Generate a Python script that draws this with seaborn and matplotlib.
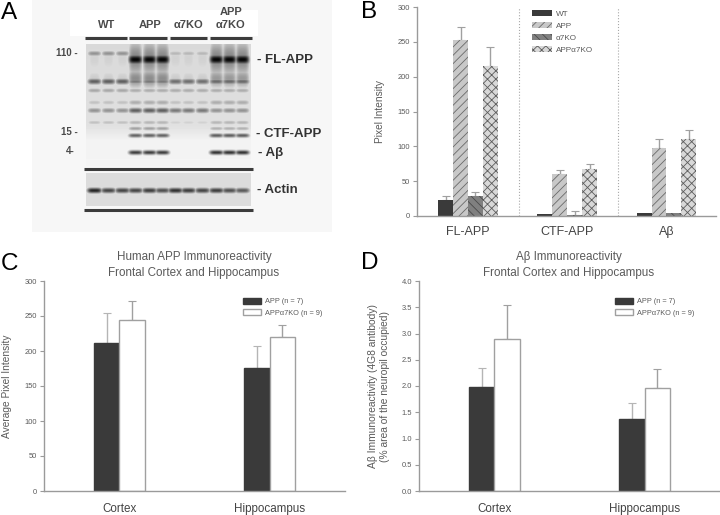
"""Four panel figure: western blot plus three grouped bar charts."""
import matplotlib
matplotlib.use("Agg")
import matplotlib.pyplot as plt
from matplotlib.patches import Patch, Rectangle
import numpy as np
import pandas as pd
import seaborn as sns

W, H = 720, 515

# panel B
b_cats = ["FL-APP", "CTF-APP", "Aβ"]
b_groups = ["WT", "APP", "α7KO", "APPα7KO"]
b_wt = [23, 3, 5]
b_app = [253, 61, 98]
b_ko = [28, 2, 5]
b_dko = [216, 68, 110]
b_wt_err = [6, 0, 0]
b_app_err = [19, 5, 13]
b_ko_err = [7, 5, 0]
b_dko_err = [26, 6, 13]
b_ticks = [0, 50, 100, 150, 200, 250, 300]

# panels C and D
cd_cats = ["Cortex", "Hippocampus"]
cd_groups = ["APP (n = 7)", "APPα7KO (n = 9)"]
c_app = [211, 176]
c_dko = [245, 220]
c_app_err = [43, 31]
c_dko_err = [27, 17]
c_ticks = [0, 50, 100, 150, 200, 250, 300]
d_app = [1.99, 1.37]
d_dko = [2.90, 1.97]
d_app_err = [0.35, 0.30]
d_dko_err = [0.64, 0.35]
d_ticks = [0.0, 0.5, 1.0, 1.5, 2.0, 2.5, 3.0, 3.5, 4.0]

# panel A blot: band row, band thickness, darkness per genotype
lane_x = [94, 108, 122, 135, 149, 162, 175, 188, 202, 216, 229, 242]
lane_group = [0, 0, 0, 1, 1, 1, 2, 2, 2, 3, 3, 3]
band_y = [53, 59, 58, 81, 78, 90, 102, 110, 122, 128, 135, 152]
band_sigma = [2.0, 3.6, 13.0, 2.2, 7.0, 1.8, 2.0, 2.0, 1.7, 1.5, 1.5, 1.6]
band_wt = [0.42, 0.00, 0.18, 0.62, 0.20, 0.34, 0.24, 0.42, 0.24, 0.00, 0.02, 0.00]
band_app = [0.20, 0.98, 0.48, 0.52, 0.45, 0.32, 0.32, 0.62, 0.28, 0.36, 0.60, 0.74]
band_ko = [0.28, 0.00, 0.18, 0.56, 0.20, 0.32, 0.24, 0.52, 0.18, 0.02, 0.00, 0.00]
band_dko = [0.20, 0.98, 0.48, 0.58, 0.40, 0.32, 0.32, 0.42, 0.28, 0.30, 0.62, 0.78]
actin_dark = [0.85, 0.72, 0.72, 0.72, 0.75, 0.68, 0.80, 0.75, 0.72, 0.75, 0.68, 0.64]
blot_rows = [44, 125, 140, 166]
blot_shade = [0.15, 0.12, 0.05, 0.04]

sns.set_theme(style="white")
plt.rcParams["font.family"] = ["Liberation Sans", "DejaVu Sans"]
plt.rcParams["hatch.linewidth"] = 0.6

DARK = "#3a3a3a"
AXIS = "#9a9a9a"
TEXT = "#5a5a5a"


def px_axes(fig, left, top, right, bottom):
    return fig.add_axes([left / W, 1 - bottom / H, (right - left) / W, (bottom - top) / H])


def style_axes(ax, ticks, fmt):
    ax.set_yticks(ticks)
    ax.set_yticklabels([fmt.format(t) for t in ticks], fontsize=5.4, color=TEXT)
    ax.set_ylim(ticks[0], ticks[-1])
    ax.tick_params(axis="y", length=3, width=0.8, color=AXIS, pad=2, left=True)
    ax.tick_params(axis="x", length=0, labelcolor="#444444")
    for side in ["top", "right"]:
        ax.spines[side].set_visible(False)
    for side in ["left", "bottom"]:
        ax.spines[side].set_color(AXIS)
        ax.spines[side].set_linewidth(1)
    ax.patch.set_alpha(0)


def upper_errors(ax, container, errs, color):
    for bar, err in zip(container, errs):
        if err > 0:
            x = bar.get_x() + bar.get_width() / 2
            ax.errorbar(x, bar.get_height(), yerr=[[0], [err]], color=color, lw=1,
                        capsize=2.6, capthick=0.8, zorder=1)


def pair_panel(ax, app, dko, app_err, dko_err, ticks, fmt, legend_x):
    df = pd.DataFrame({
        "cat": cd_cats * 2,
        "group": [cd_groups[0]] * 2 + [cd_groups[1]] * 2,
        "value": app + dko,
    })
    sns.barplot(data=df, x="cat", y="value", hue="group", order=cd_cats, hue_order=cd_groups,
                palette={cd_groups[0]: DARK, cd_groups[1]: "white"}, width=0.336,
                saturation=1, errorbar=None, legend=False, ax=ax, zorder=2)
    for bar in ax.containers[0]:
        bar.set_edgecolor(DARK)
    for bar in ax.containers[1]:
        bar.set_edgecolor("#a0a0a0")
        bar.set_linewidth(1)
    upper_errors(ax, ax.containers[0], app_err, "#b5b5b5")
    upper_errors(ax, ax.containers[1], dko_err, "#a0a0a0")
    ax.set_xlim(-0.5, 1.5)
    ax.set_xlabel("")
    style_axes(ax, ticks, fmt)
    ax.set_xticks(range(2))
    ax.set_xticklabels(cd_cats, fontsize=8.4, va="baseline")
    ax.tick_params(axis="x", pad=15)
    handles = [Patch(facecolor=DARK, edgecolor=DARK), Patch(facecolor="white", edgecolor="#a0a0a0")]
    leg = ax.legend(handles, cd_groups, loc="upper left", bbox_to_anchor=(legend_x, 0.92), frameon=False,
                    fontsize=5.3, labelspacing=0.55, handlelength=2.5, handleheight=0.85,
                    handletextpad=0.5, borderpad=0, borderaxespad=0)
    for t in leg.get_texts():
        t.set_color(TEXT)


fig = plt.figure(figsize=(W / 100, H / 100), dpi=100)

# panel A
bg = px_axes(fig, 0, 0, W, H)
bg.set_xlim(0, W)
bg.set_ylim(H, 0)
bg.axis("off")
bg.add_patch(Rectangle((32, 0), 300, 232, facecolor="#f7f7f7", edgecolor="none"))
bg.add_patch(Rectangle((70, 10), 188, 26, facecolor="white", edgecolor="none"))

rows = np.arange(44, 166)
cols = np.arange(86, 251)
blot = np.tile(np.interp(rows, blot_rows, blot_shade)[:, None], (1, cols.size))
groups = [band_wt, band_app, band_ko, band_dko]
for lx, g in zip(lane_x, lane_group):
    xprof = np.exp(-((cols - lx) / 7.0) ** 4)
    for i, y in enumerate(band_y):
        yprof = np.exp(-((rows - y) / band_sigma[i]) ** 2 / 2)
        blot = np.maximum(blot, groups[g][i] * np.outer(yprof, xprof))
bg.imshow(1 - blot, cmap="gray", vmin=0, vmax=1, extent=(86, 251, 166, 44), aspect="auto",
          interpolation="bilinear", zorder=2)

arows = np.arange(173, 206)
actin = np.full((arows.size, cols.size), 0.14)
for lx, dark in zip(lane_x, actin_dark):
    xprof = np.exp(-((cols - lx) / 7.5) ** 4)
    yprof = np.exp(-((arows - 190) / 2.0) ** 2 / 2)
    actin = np.maximum(actin, dark * np.outer(yprof, xprof))
bg.imshow(1 - actin, cmap="gray", vmin=0, vmax=1, extent=(86, 251, 206, 173), aspect="auto",
          interpolation="bilinear", zorder=2)
bg.set_xlim(0, W)
bg.set_ylim(H, 0)

for x0, x1 in [(85, 127), (129, 167), (170, 207), (210, 252)]:
    bg.plot([x0, x1], [38, 38], color="#3c3c3c", lw=2.2, solid_capstyle="butt")
for y in [169, 210]:
    bg.plot([84, 253], [y, y], color="#3c3c3c", lw=2.2, solid_capstyle="butt")

for x, y, s in [(107, 25, "WT"), (150, 25, "APP"), (188, 25, "α7KO"), (231, 12, "APP"), (231, 25, "α7KO")]:
    bg.text(x, y, s, ha="center", va="center", fontsize=8, fontweight="bold", color="#4a4a4a")
for x, y, s in [(78, 53, "110 -"), (78, 132, "15 -"), (75, 151, "4-")]:
    bg.text(x, y, s, ha="right", va="center", fontsize=7, fontweight="bold", color="#4a4a4a")
for x, y, s in [(257, 60, "- FL-APP"), (256, 134, "- CTF-APP"), (258, 153, "- Aβ"), (257, 190, "- Actin")]:
    bg.text(x, y, s, ha="left", va="center", fontsize=9.5, fontweight="bold", color="#333333")

for x, y, s in [(1, 19, "A"), (361, 18, "B"), (1, 270, "C"), (361, 269, "D")]:
    bg.text(x, y, s, ha="left", va="baseline", fontsize=17.5, color="black")

# panel B
ax_b = px_axes(fig, 417, 7, 716, 216)
b_df = pd.DataFrame({
    "cat": b_cats * 4,
    "group": np.repeat(b_groups, 3),
    "value": b_wt + b_app + b_ko + b_dko,
})
b_fill = [DARK, "#c8c8c8", "#808080", "#d8d8d8"]
sns.barplot(data=b_df, x="cat", y="value", hue="group", order=b_cats, hue_order=b_groups,
            palette=dict(zip(b_groups, b_fill)),
            width=0.6, saturation=1, errorbar=None, legend=False, ax=ax_b, zorder=2)
hatches = [None, "////", "\\\\\\\\", "xxxx"]
edges = [DARK, "#6a6a6a", "#4a4a4a", "#5c5c5c"]
for cont, hatch, edge in zip(ax_b.containers, hatches, edges):
    for bar in cont:
        bar.set_edgecolor(edge)
        bar.set_linewidth(0)
        if hatch:
            bar.set_hatch(hatch)
for cont, errs in zip(ax_b.containers, [b_wt_err, b_app_err, b_ko_err, b_dko_err]):
    upper_errors(ax_b, cont, errs, "#a0a0a0")
ax_b.set_xlim(-0.514, 2.5)
ax_b.set_xlabel("")
style_axes(ax_b, b_ticks, "{:d}")
ax_b.set_xticks(range(3))
ax_b.set_xticklabels(b_cats, fontsize=9)
ax_b.tick_params(axis="x", pad=7)
ax_b.set_ylabel("Pixel Intensity", fontsize=7.3, color=TEXT, labelpad=9)
for x in [0.515, 1.515]:
    ax_b.axvline(x, color="#a8a8a8", lw=0.8, ls=":", zorder=1)
b_handles = [Patch(facecolor=c, edgecolor=e, hatch=h, linewidth=0)
             for c, e, h in zip(b_fill, edges, hatches)]
b_leg = ax_b.legend(b_handles, b_groups, loc="upper left", bbox_to_anchor=(0.383, 0.985), frameon=False,
                    fontsize=5.9, labelspacing=0.52, handlelength=2.44, handleheight=0.75,
                    handletextpad=0.5, borderpad=0, borderaxespad=0)
for t in b_leg.get_texts():
    t.set_color(TEXT)

# panel C
ax_c = px_axes(fig, 44, 281, 345, 491)
pair_panel(ax_c, c_app, c_dko, c_app_err, c_dko_err, c_ticks, "{:d}", 0.661)
ax_c.set_ylabel("Average Pixel Intensity", fontsize=7.3, color=TEXT, labelpad=9)
bg.text(194, 257, "Human APP Immunoreactivity", ha="center", va="center", fontsize=8.4, color=TEXT)
bg.text(194, 273, "Frontal Cortex and Hippocampus", ha="center", va="center", fontsize=8.4, color=TEXT)

# panel D
ax_d = px_axes(fig, 419, 281, 720, 491)
pair_panel(ax_d, d_app, d_dko, d_app_err, d_dko_err, d_ticks, "{:.1f}", 0.651)
ax_d.set_ylabel("Aβ Immunoreactivity (4G8 antibody)\n(% area of the neuropil occupied)",
                fontsize=7.4, color=TEXT, labelpad=8, linespacing=1.35)
bg.text(569, 257, "Aβ Immunoreactivity", ha="center", va="center", fontsize=8.4, color=TEXT)
bg.text(569, 273, "Frontal Cortex and Hippocampus", ha="center", va="center", fontsize=8.4, color=TEXT)

fig.savefig("out.png", dpi=100)
plt.close(fig)
